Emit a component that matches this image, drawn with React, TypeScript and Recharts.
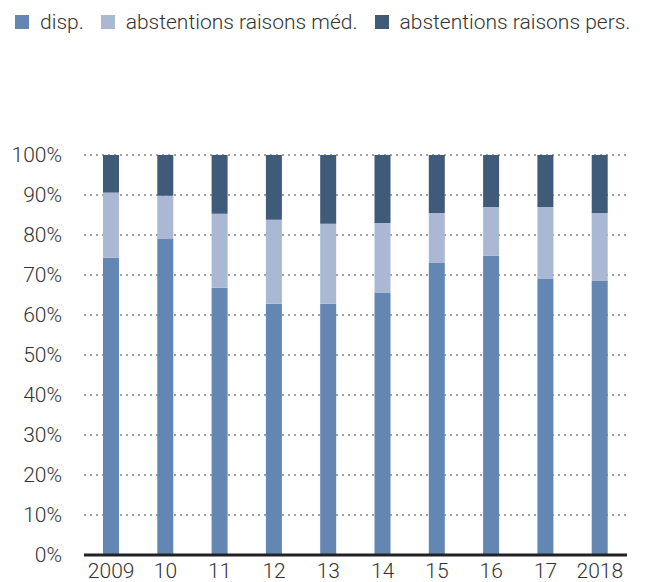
import React from 'react';
import { Bar, BarChart, CartesianGrid, XAxis, YAxis } from 'recharts';

const years = ['2009', '10', '11', '12', '13', '14', '15', '16', '17', '2018'];
const disp = [74.3, 79, 66.8, 62.8, 62.8, 65.5, 73, 74.8, 69, 68.5];
const absMed = [16.3, 10.8, 18.5, 21, 20, 17.5, 12.5, 12.2, 18, 17];
const absPers = [9.4, 10.2, 14.7, 16.2, 17.2, 17, 14.5, 13, 13, 14.5];
const yTicks = [0, 10, 20, 30, 40, 50, 60, 70, 80, 90, 100];

const series = [
    { key: 'disp', label: 'disp.', color: '#6386b2' },
    { key: 'med', label: 'abstentions raisons méd.', color: '#aab8d4' },
    { key: 'pers', label: 'abstentions raisons pers.', color: '#405a79' },
];

const FONT = 'Roboto, "Liberation Sans", sans-serif';

const LegendRow = () => (
    <div style={{ position: 'absolute', top: 10, left: 15, display: 'flex', alignItems: 'center', fontFamily: FONT, fontSize: 21, color: '#333', fontWeight: 300, whiteSpace: 'nowrap' }}>
        {series.map((s, i) => (
            <div key={s.key} style={{ display: 'flex', alignItems: 'center', marginRight: i < 2 ? 17 : 0 }}>
                <span style={{ display: 'inline-block', width: 14, height: 14, background: s.color, marginRight: 11 }} />
                <span>{s.label}</span>
            </div>
        ))}
    </div>
);

export default function App() {
    const data = years.map((y, i) => ({ year: y, disp: disp[i], med: absMed[i], pers: absPers[i] }));

    return (
        <div style={{ position: 'absolute', left: 0, top: 0, width: 647, height: 582, background: '#fff' }}>
            <BarChart width={647} height={582} data={data} margin={{ top: 155, right: 20, bottom: 0, left: 0 }}>
                <CartesianGrid vertical={false} stroke="#444" strokeDasharray="2 4" />
                <XAxis
                    dataKey="year"
                    height={27}
                    tickLine={false}
                    axisLine={{ stroke: '#222', strokeWidth: 3 }}
                    tick={{ fill: '#333', fontSize: 21, fontFamily: FONT, fontWeight: 300 }}
                    tickMargin={2}
                    interval={0}
                />
                <YAxis
                    domain={[0, 100]}
                    ticks={yTicks}
                    width={84}
                    axisLine={false}
                    tickLine={false}
                    tickMargin={16}
                    tickFormatter={(v) => `${v}%`}
                    tick={{ fill: '#333', fontSize: 21, fontFamily: FONT, fontWeight: 300 }}
                />
                {series.map((s) => (
                    <Bar key={s.key} dataKey={s.key} stackId="a" fill={s.color} barSize={16} isAnimationActive={false} />
                ))}
            </BarChart>
            <LegendRow />
        </div>
    );
}
